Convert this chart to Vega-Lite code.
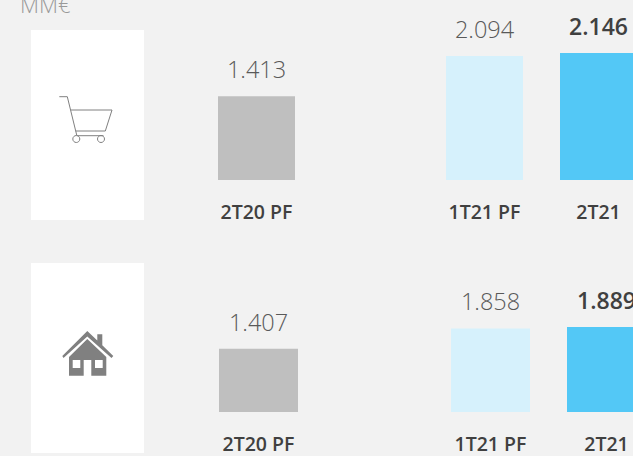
{"$schema":"https://vega.github.io/schema/vega-lite/v6.json","background":"#f2f2f2","padding":{"left":0,"top":0,"right":633,"bottom":456},"autosize":{"type":"none"},"spacing":52,"bounds":"flush","config":{"view":{"stroke":null},"font":"Open Sans"},"vconcat":[{"width":633,"height":180,"title":{"text":"MM€","anchor":"start","frame":"group","font":"Open Sans","fontSize":22,"fontWeight":300,"color":"#999999","dx":20,"dy":18,"offset":0},"resolve":{"scale":{"x":"independent","y":"independent"}},"layer":[{"data":{"values":[{"segmento":"Alimentación"}]},"layer":[{"mark":{"type":"rect","color":"#ffffff"},"encoding":{"x":{"datum":0,"type":"quantitative","axis":null,"scale":{"domain":[0,1],"range":[31,144]}},"x2":{"datum":1},"y":{"datum":0,"type":"quantitative","axis":null,"scale":{"domain":[0,1],"range":[220,30]}},"y2":{"datum":1}}},{"mark":{"type":"point","filled":false,"size":4,"stroke":"#808080","strokeWidth":1,"opacity":1,"shape":"M-28.2 -28.3L-20.2 -28.3L-10.8 10M-16.8 -15L24.5 -15L17.8 6L-11.8 6M-10.8 10.7L16 10.7M-14.7 14a3.5 3.5 0 1 0 7 0a3.5 3.5 0 1 0 -7 0M10 14a3.5 3.5 0 1 0 7 0a3.5 3.5 0 1 0 -7 0"},"encoding":{"x":{"datum":0.5,"type":"quantitative","axis":null,"scale":{"domain":[0,1],"range":[31,144]}},"y":{"datum":0.5,"type":"quantitative","axis":null,"scale":{"domain":[0,1],"range":[220,30]}}}}]},{"data":{"values":[{"periodo":"2T20 PF","valor":1.413},{"periodo":"1T21 PF","valor":2.094},{"periodo":"2T21","valor":2.146}]},"encoding":{"x":{"field":"periodo","type":"nominal","sort":null,"scale":{"type":"band","domain":["2T20 PF"," ","1T21 PF","2T21"],"range":[199.5,655.5],"paddingInner":0.3246,"paddingOuter":0.1623},"axis":{"title":null,"orient":"bottom","domain":false,"ticks":false,"grid":false,"labelAngle":0,"values":["2T20 PF","1T21 PF","2T21"],"labelPadding":38,"labelBaseline":"alphabetic","labelFont":"Open Sans","labelFontSize":19.5,"labelFontWeight":600,"labelColor":"#404040"}},"y":{"field":"valor","type":"quantitative","axis":null,"scale":{"domain":[0,3.04],"nice":false,"zero":true}}},"layer":[{"mark":{"type":"bar","clip":true},"encoding":{"color":{"field":"periodo","type":"nominal","legend":null,"scale":{"domain":["2T20 PF","1T21 PF","2T21"],"range":["#bfbfbf","#d6f1fc","#53c8f6"]}}}},{"transform":[{"filter":"datum.periodo !== '2T21'"}],"mark":{"type":"text","clip":true,"baseline":"alphabetic","dy":-18,"font":"Open Sans","fontSize":23.5,"fontWeight":300,"color":"#595959"},"encoding":{"text":{"field":"valor","type":"quantitative","format":".3f"}}},{"transform":[{"filter":"datum.periodo === '2T21'"}],"mark":{"type":"text","clip":true,"baseline":"alphabetic","dy":-18,"font":"Open Sans","fontSize":23,"fontWeight":600,"color":"#404040"},"encoding":{"text":{"field":"valor","type":"quantitative","format":".3f"}}}]}]},{"width":633,"height":180,"resolve":{"scale":{"x":"independent","y":"independent"}},"layer":[{"data":{"values":[{"segmento":"Hogar"}]},"layer":[{"mark":{"type":"rect","color":"#ffffff"},"encoding":{"x":{"datum":0,"type":"quantitative","axis":null,"scale":{"domain":[0,1],"range":[31,144]}},"x2":{"datum":1},"y":{"datum":0,"type":"quantitative","axis":null,"scale":{"domain":[0,1],"range":[221,31]}},"y2":{"datum":1}}},{"mark":{"type":"point","filled":true,"size":4,"fill":"#808080","opacity":1,"strokeWidth":0,"shape":"M-0.2 -27L9.8 -17.5L9.8 -23.7L14.8 -23.7L14.8 -12.8L25.8 -2L24 0L-0.2 -21.5L-24 0L-25.2 -2ZM-0.2 -19L18.8 -1L18.8 17.7L3.8 17.7L3.8 2L-3.8 2L-3.8 17.7L-18.5 17.7L-18.5 -1ZM-14.8 2L-14.8 10L-7.2 10L-7.2 2ZM7.5 2L7.5 10L15.2 10L15.2 2Z"},"encoding":{"x":{"datum":0.5,"type":"quantitative","axis":null,"scale":{"domain":[0,1],"range":[31,144]}},"y":{"datum":0.5,"type":"quantitative","axis":null,"scale":{"domain":[0,1],"range":[221,31]}}}}]},{"data":{"values":[{"periodo":"2T20 PF","valor":1.407},{"periodo":"1T21 PF","valor":1.858},{"periodo":"2T21","valor":1.889}]},"encoding":{"x":{"field":"periodo","type":"nominal","sort":null,"scale":{"type":"band","domain":["2T20 PF"," ","1T21 PF","2T21"],"range":[200.5,664.5],"paddingInner":0.319,"paddingOuter":0.1595},"axis":{"title":null,"orient":"bottom","domain":false,"ticks":false,"grid":false,"labelAngle":0,"values":["2T20 PF","1T21 PF","2T21"],"labelPadding":38,"labelBaseline":"alphabetic","labelFont":"Open Sans","labelFontSize":19.5,"labelFontWeight":600,"labelColor":"#404040"}},"y":{"field":"valor","type":"quantitative","axis":null,"scale":{"domain":[0,4],"nice":false,"zero":true}}},"layer":[{"mark":{"type":"bar","clip":true},"encoding":{"color":{"field":"periodo","type":"nominal","legend":null,"scale":{"domain":["2T20 PF","1T21 PF","2T21"],"range":["#bfbfbf","#d6f1fc","#53c8f6"]}}}},{"transform":[{"filter":"datum.periodo !== '2T21'"}],"mark":{"type":"text","clip":true,"baseline":"alphabetic","dy":-18,"font":"Open Sans","fontSize":23.5,"fontWeight":300,"color":"#595959"},"encoding":{"text":{"field":"valor","type":"quantitative","format":".3f"}}},{"transform":[{"filter":"datum.periodo === '2T21'"}],"mark":{"type":"text","clip":true,"baseline":"alphabetic","dy":-18,"font":"Open Sans","fontSize":23,"fontWeight":600,"color":"#404040"},"encoding":{"text":{"field":"valor","type":"quantitative","format":".3f"}}}]}]}]}
